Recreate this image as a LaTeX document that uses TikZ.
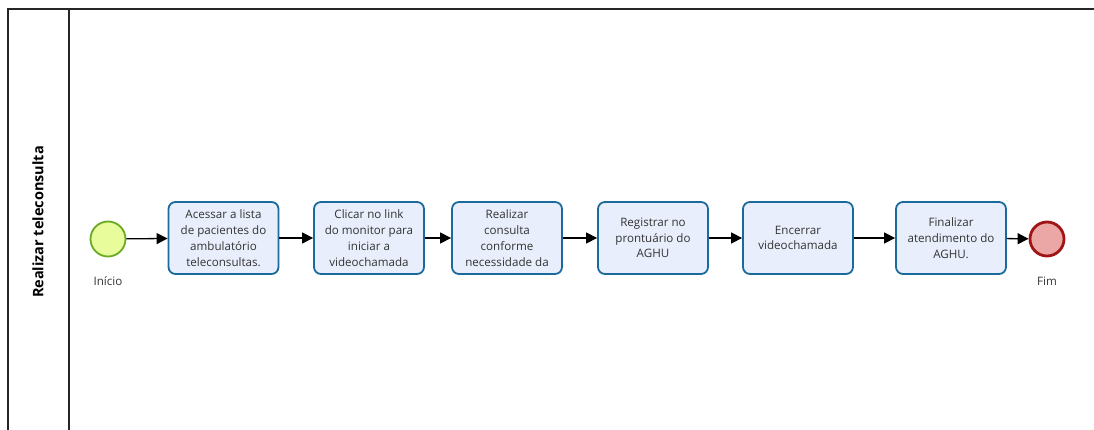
\documentclass[tikz,border=0pt]{standalone}
\usepackage{fontspec}
\setmainfont{Open Sans}
\usetikzlibrary{arrows.meta}
\definecolor{taskfill}{HTML}{E8EEFB}
\definecolor{taskline}{HTML}{1A6A9C}
\definecolor{startfill}{HTML}{E8FC9C}
\definecolor{startline}{HTML}{6AAA22}
\definecolor{endfill}{HTML}{EBA6A6}
\definecolor{endline}{HTML}{A01414}
\tikzset{
  task/.style={draw=taskline, line width=1.8pt, fill=taskfill, rounded corners=7pt,
    minimum width=110pt, minimum height=72pt, inner sep=0pt,
    align=center, font=\fontsize{11.6}{15.8}\selectfont, text=black!80},
  startev/.style={circle, draw=startline, line width=1.8pt, fill=startfill, minimum size=35pt, inner sep=0pt},
  endev/.style={circle, draw=endline, line width=2.8pt, fill=endfill, minimum size=34pt, inner sep=0pt},
  evlabel/.style={font=\fontsize{11.6}{14}\selectfont, text=black!80},
  flow/.style={line width=1.3pt, -{Triangle[length=11pt,width=11pt]}},
  frame/.style={line width=1.2pt, draw=black!85}
}
\begin{document}
\begin{tikzpicture}[x=1pt,y=-1pt]
  \useasboundingbox (0,0) rectangle (1094,430);
  % pool and lane
  \draw[frame] (8,430) -- (8,9) -- (1094,9);
  \draw[frame] (69,9) -- (69,430);
  \node[rotate=90, font=\bfseries\fontsize{14.5}{17}\selectfont] (lane) at (38,222) {Realizar teleconsulta};

  % events
  \node[startev] (start) at (108,239) {};
  \node[evlabel] (startlbl) at (108,281) {Início};
  \node[endev] (end) at (1047,239) {};
  \node[evlabel] (endlbl) at (1047,281) {Fim};

  % tasks
  \node[task] (t1) at (223.5,238) {Acessar a lista\\de pacientes do\\ambulatório\\teleconsultas.};
  \node[task] (t2) at (369,238) {Clicar no link\\do monitor para\\iniciar a\\videochamada};
  \node[task] (t3) at (507,238) {Realizar\\consulta\\conforme\\necessidade da};
  \node[task] (t4) at (653,238) {Registrar no\\prontuário do\\AGHU};
  \node[task] (t5) at (798,238) {Encerrar\\videochamada};
  \node[task] (t6) at (951,238) {Finalizar\\atendimento do\\AGHU.};

  % sequence flows
  \draw[flow] (start) -- (t1);
  \draw[flow] (t1) -- (t2);
  \draw[flow] (t2) -- (t3);
  \draw[flow] (t3) -- (t4);
  \draw[flow] (t4) -- (t5);
  \draw[flow] (t5) -- (t6);
  \draw[flow] (t6) -- (end);
\end{tikzpicture}
\end{document}
